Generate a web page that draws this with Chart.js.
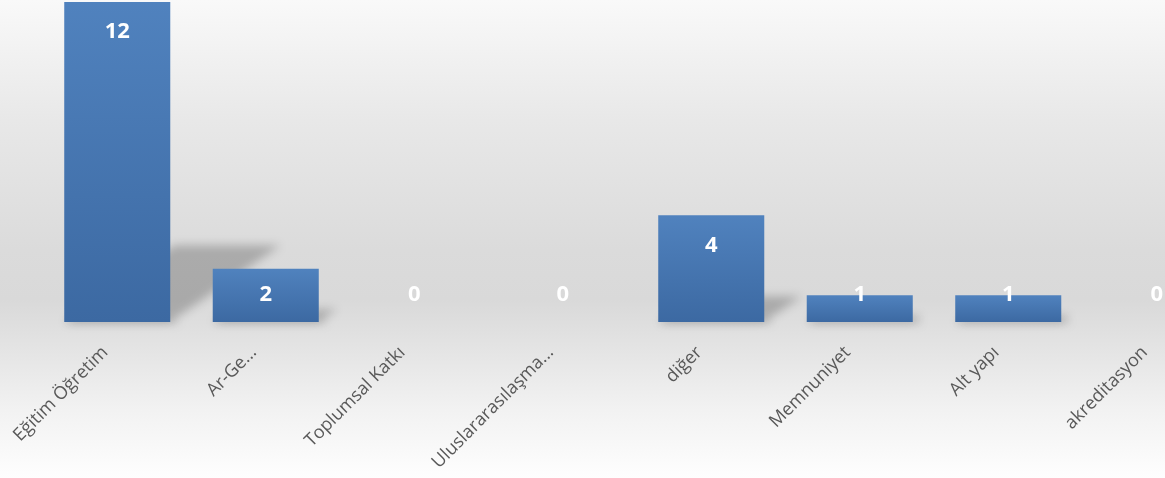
<!DOCTYPE html>
<html>
<head>
<meta charset="utf-8">
<script src="https://cdn.jsdelivr.net/npm/chart.js@4.4.1/dist/chart.umd.min.js"></script>
<style>
  html,body{margin:0;padding:0;overflow:hidden;width:1165px;height:478px;}
  body{background:linear-gradient(to bottom,#f9f9f9 0px,#e8e8e8 120px,#dbdbdb 250px,#d9d9d9 300px,#e3e3e3 345px,#f2f2f2 410px,#fefefe 478px);}
  #wrap{position:absolute;left:0;top:0;width:1231px;height:478px;}
</style>
</head>
<body>
<div id="wrap"><canvas id="c"></canvas></div>
<script>
/* ========= DATA ========= */
const categories = ["Eğitim Öğretim","Ar-Ge...","Toplumsal Katkı","Uluslararasılaşma...","diğer","Memnuniyet","Alt yapı","akreditasyon"];
const counts     = [12, 2, 0, 0, 4, 1, 1, 0];

/* ========= PLUGINS ========= */
// soft perspective shadow behind each bar
const barShadow = {
  id:'barShadow',
  beforeDatasetsDraw(chart){
    const c = chart.ctx;
    chart.getDatasetMeta(0).data.forEach(el=>{
      const h = el.base - el.y; if(h<=0) return;
      const l = el.x - el.width/2, r = el.x + el.width/2;
      const dx = h*0.344, dy = h*0.24;
      c.save();
      c.filter = 'blur(5px)';
      c.fillStyle = 'rgba(0,0,0,0.22)';
      c.beginPath();
      c.moveTo(l, el.base); c.lineTo(r, el.base);
      c.lineTo(r+dx, el.base-dy); c.lineTo(l+dx, el.base-dy);
      c.closePath(); c.fill();
      // little contact shadow under the bar
      c.fillStyle = 'rgba(0,0,0,0.12)';
      c.fillRect(l+2, el.base-2, el.width+6, 4);
      c.restore();
    });
  }
};
// white value labels, inside end but kept above the baseline
const valueLabels = {
  id:'valueLabels',
  afterDatasetsDraw(chart){
    const c = chart.ctx;
    c.save();
    c.font = 'bold 22px "Open Sans", sans-serif';
    c.fillStyle = '#ffffff';
    c.textAlign = 'center'; c.textBaseline = 'middle';
    chart.getDatasetMeta(0).data.forEach((el,i)=>{
      const y = Math.min(el.y + 30, el.base - 27);
      c.fillText(String(counts[i]), el.x, y);
    });
    c.restore();
  }
};

function barFill(ctx){
  const ch = ctx.chart;
  if(!ch.chartArea || !ch.scales.y) return '#4776b0';
  const top = ch.scales.y.getPixelForValue(ctx.raw);
  const bot = ch.scales.y.getPixelForValue(0);
  if(!(bot>top)) return '#4776b0';
  const g = ch.ctx.createLinearGradient(0, top, 0, bot);
  g.addColorStop(0,'#5082be');
  g.addColorStop(1,'#3c69a2');
  return g;
}

/* ========= CHART ========= */
new Chart(document.getElementById('c'),{
  type:'bar',
  data:{labels:categories,datasets:[{data:counts,backgroundColor:barFill,borderWidth:0,
        barPercentage:0.714,categoryPercentage:1}]},
  plugins:[barShadow,valueLabels],
  options:{
    responsive:true, maintainAspectRatio:false, animation:false,
    layout:{padding:{left:43,right:0,top:2,bottom:0}},
    plugins:{legend:{display:false},tooltip:{enabled:false}},
    scales:{
      y:{display:false,min:0,max:12},
      x:{
        grid:{display:false}, border:{display:false},
        ticks:{autoSkip:false,maxRotation:45,minRotation:45,padding:12,labelOffset:-12,
               color:'#595959',font:{family:'"Open Sans", sans-serif',size:18}},
        afterFit(scale){ scale.height = 156; }
      }
    }
  }
});
</script>
</body>
</html>
